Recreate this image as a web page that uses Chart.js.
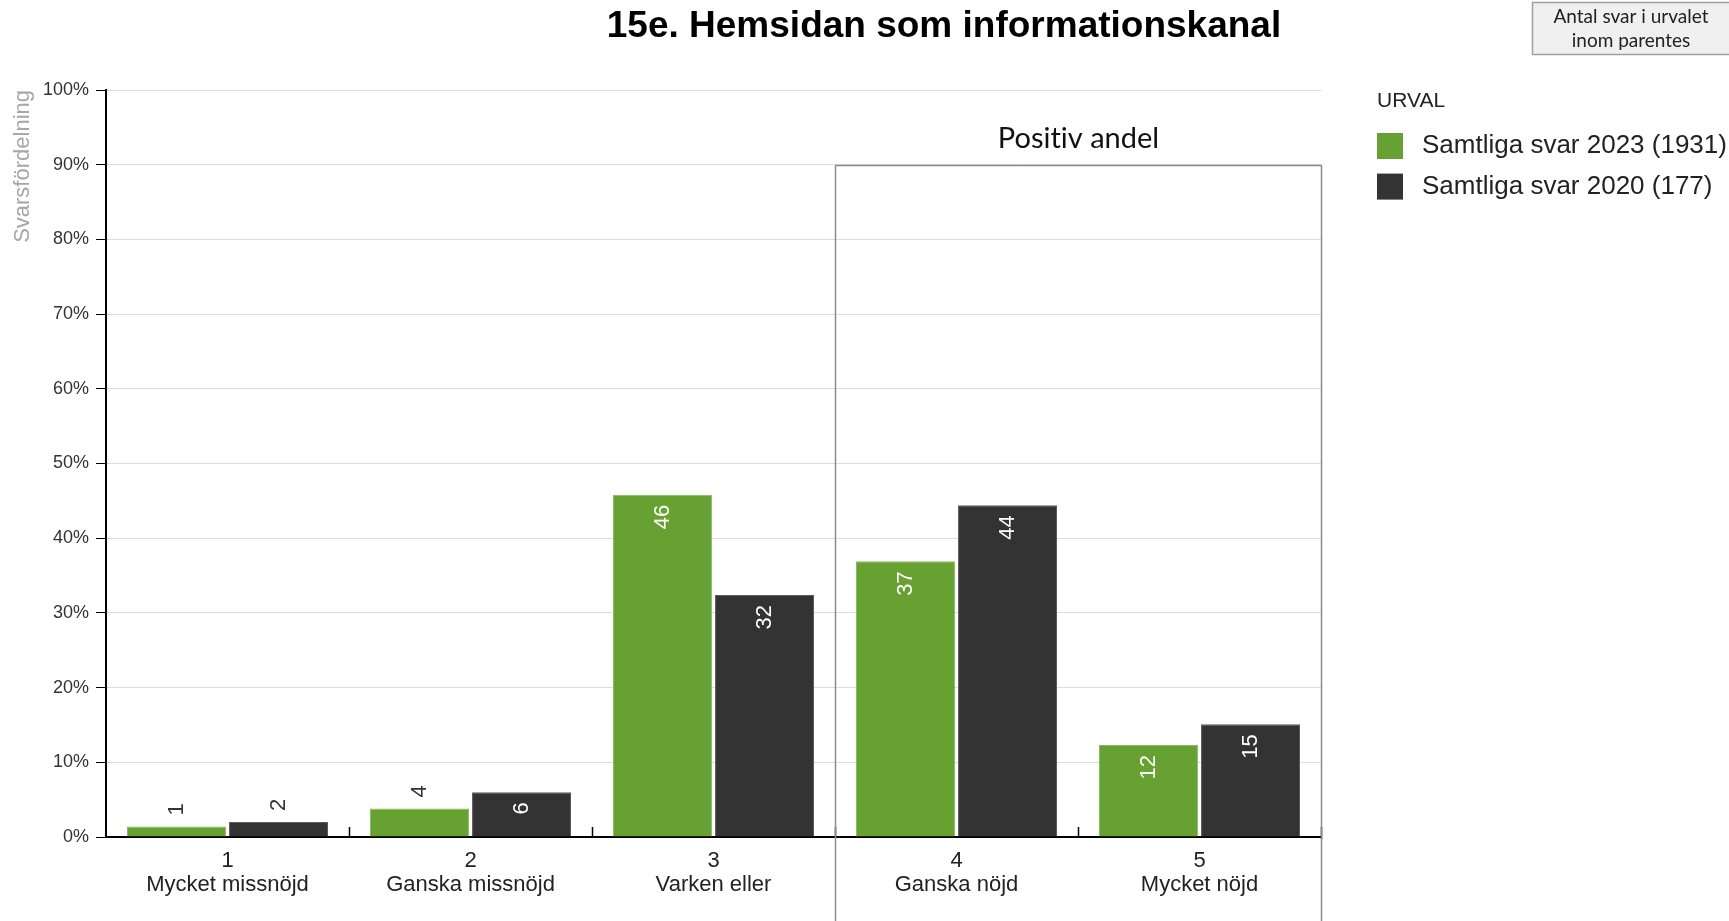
<!DOCTYPE html>
<html lang="sv">
<head>
<meta charset="utf-8">
<title>15e. Hemsidan som informationskanal</title>
<script src="https://cdn.jsdelivr.net/npm/chart.js@4.4.1/dist/chart.umd.min.js"></script>
<style>
    html, body { margin: 0; padding: 0; background: #fff; }
    #wrap { width: 1729px; height: 921px; }
</style>
</head>
<body>
<div id="wrap"><canvas id="svar-chart" width="1729" height="921"></canvas></div>
<script>
"use strict";

// svarsalternativ (nummer + text)
const kategorier = [
    ['1', 'Mycket missnöjd'],
    ['2', 'Ganska missnöjd'],
    ['3', 'Varken eller'],
    ['4', 'Ganska nöjd'],
    ['5', 'Mycket nöjd']
];
// andel svar i procent
const andel2023 = [1.4, 3.8, 45.8, 36.9, 12.3];
const andel2020 = [2.0, 6.0, 32.4, 44.4, 15.1];
const serier = ['Samtliga svar 2023 (1931)', 'Samtliga svar 2020 (177)'];
const fargGron = '#66a132';
const fargMork = '#333333';

const FONT = 'Arial, "Liberation Sans", Helvetica, sans-serif';
const FONT_INFO = 'Lato, "Open Sans", sans-serif';

Chart.defaults.font.family = FONT;

/**
 * Rubrik och informationsruta högst upp
 */
const rubrik = {
    id: 'rubrik',
    afterDraw(chart, args, options) {
        const {ctx} = chart;
        ctx.save();
        ctx.fillStyle = '#000';
        ctx.font = 'bold 37px ' + FONT;
        ctx.textAlign = 'center';
        ctx.textBaseline = 'middle';
        ctx.fillText(options.text, 944, 27);

        // "Antal svar i urvalet inom parentes"
        ctx.fillStyle = '#f0f0f0';
        ctx.fillRect(1532, 2, 197, 53);
        ctx.strokeStyle = '#a0a0a0';
        ctx.lineWidth = 1.5;
        ctx.strokeRect(1532.5, 2.5, 200, 52);
        ctx.fillStyle = '#222';
        ctx.font = '19px ' + FONT_INFO;
        ctx.fillText(options.info[0], 1631, 17);
        ctx.fillText(options.info[1], 1631, 41);
        ctx.restore();
    }
};

/**
 * Förklaring (URVAL) till höger om diagrammet
 */
const urval = {
    id: 'urval',
    afterDraw(chart, args, options) {
        const {ctx} = chart;
        const x = 1377;
        const y = 101;
        ctx.save();
        ctx.textAlign = 'left';
        ctx.textBaseline = 'middle';
        ctx.fillStyle = '#222';
        ctx.font = '21px ' + FONT;
        ctx.fillText(options.title, x, y);
        ctx.font = '26px ' + FONT;
        chart.data.datasets.forEach((dataset, i) => {
            const cy = y + 45 + i * 40.6;
            ctx.fillStyle = dataset.backgroundColor;
            ctx.fillRect(x, cy - 13, 26, 26);
            ctx.fillStyle = '#222';
            ctx.fillText(dataset.label, x + 45, cy);
        });
        ctx.restore();
    }
};

/**
 * Värden på staplarna, roterade. Inne i stapeln om den är hög nog, annars ovanför
 */
const stapelEtiketter = {
    id: 'stapelEtiketter',
    afterDatasetsDraw(chart, args, options) {
        const {ctx} = chart;
        ctx.save();
        ctx.font = '22px ' + FONT;
        ctx.textBaseline = 'middle';
        chart.data.datasets.forEach((dataset, di) => {
            chart.getDatasetMeta(di).data.forEach((bar, i) => {
                const text = String(Math.round(dataset.data[i]));
                const inne = (bar.base - bar.y) > options.minHojd;
                ctx.save();
                ctx.translate(bar.x, inne ? bar.y + 10 : bar.y - 11);
                ctx.rotate(-Math.PI / 2);
                ctx.textAlign = inne ? 'right' : 'left';
                ctx.fillStyle = inne ? '#fff' : '#333';
                ctx.fillText(text, 0, 0);
                ctx.restore();
            });
        });
        ctx.restore();
    }
};

/**
 * Små streck mellan kategorierna, uppåt från x-axeln
 */
const xStreck = {
    id: 'xStreck',
    afterDraw(chart) {
        const {ctx, scales: {x}, chartArea} = chart;
        ctx.save();
        ctx.strokeStyle = '#000';
        ctx.lineWidth = 1.5;
        for (let i = 1; i <= kategorier.length; i++) {
            const px = Math.round(x.getPixelForValue(i - 0.5)) + 0.5;
            ctx.beginPath();
            ctx.moveTo(px, chartArea.bottom - 10);
            ctx.lineTo(px, chartArea.bottom + (i === kategorier.length ? 2 : 0));
            ctx.stroke();
        }
        ctx.restore();
    }
};

/**
 * Ram runt de positiva svaren (4 och 5)
 */
const positivAndel = {
    id: 'positivAndel',
    afterDraw(chart, args, options) {
        const {ctx, scales: {x, y}, chartArea} = chart;
        const vanster = Math.round(x.getPixelForValue(options.fran - 0.5)) + 0.5;
        const hoger = Math.round(chartArea.right) + 0.5;
        const topp = Math.round(y.getPixelForValue(options.topp)) + 0.5;
        ctx.save();
        ctx.strokeStyle = '#8c8c8c';
        ctx.lineWidth = 1.5;
        ctx.beginPath();
        ctx.moveTo(vanster, chart.height);
        ctx.lineTo(vanster, topp);
        ctx.lineTo(hoger, topp);
        ctx.lineTo(hoger, chart.height);
        ctx.stroke();
        ctx.fillStyle = '#111';
        ctx.font = '29px ' + FONT_INFO;
        ctx.textRendering = 'optimizeSpeed'; // ingen "ti"-ligatur
        ctx.textAlign = 'center';
        ctx.textBaseline = 'middle';
        ctx.fillText(options.text, (vanster + hoger) / 2, topp - 27);
        ctx.restore();
    }
};

const ctx = document.getElementById('svar-chart');

const config = {
    type: 'bar',
    data: {
        labels: kategorier,
        datasets: [{
            label: serier[0],
            data: andel2023,
            backgroundColor: fargGron,
            borderColor: '#88bb5e',
            borderWidth: 1,
            categoryPercentage: 0.84,
            barPercentage: 0.97
        }, {
            label: serier[1],
            data: andel2020,
            backgroundColor: fargMork,
            borderColor: '#5c5c5c',
            borderWidth: 1,
            categoryPercentage: 0.84,
            barPercentage: 0.97
        }]
    },
    options: {
        responsive: false,
        animation: false,
        layout: {
            padding: {top: 90, right: 408, bottom: 0, left: 0}
        },
        plugins: {
            legend: {display: false},
            tooltip: {enabled: false},
            rubrik: {
                text: '15e. Hemsidan som informationskanal',
                info: ['Antal svar i urvalet', 'inom parentes']
            },
            urval: {title: 'URVAL'},
            stapelEtiketter: {minHojd: 35},
            positivAndel: {text: 'Positiv andel', fran: 3, topp: 90}
        },
        scales: {
            x: {
                grid: {display: false, drawTicks: false},
                border: {color: '#000', width: 2},
                ticks: {
                    font: {size: 22, lineHeight: 1.1},
                    color: '#222',
                    padding: 12,
                    maxRotation: 0,
                    autoSkip: false
                },
                afterFit(scale) {
                    scale.height = 84;
                }
            },
            y: {
                min: 0,
                max: 100,
                ticks: {
                    stepSize: 10,
                    font: {size: 18},
                    color: '#333',
                    padding: 7,
                    callback: function (value) {
                        return value + '%';
                    }
                },
                grid: {color: '#dcdcdc', tickColor: '#000', tickLength: 10, lineWidth: 1},
                border: {color: '#000', width: 2},
                title: {
                    display: true,
                    text: 'Svarsfördelning',
                    align: 'end',
                    color: '#a6a6a6',
                    font: {size: 22},
                    padding: {top: 10}
                },
                afterFit(scale) {
                    scale.width = 106;
                }
            }
        }
    },
    plugins: [stapelEtiketter, xStreck, positivAndel, rubrik, urval]
};

new Chart(ctx, config);
</script>
</body>
</html>
